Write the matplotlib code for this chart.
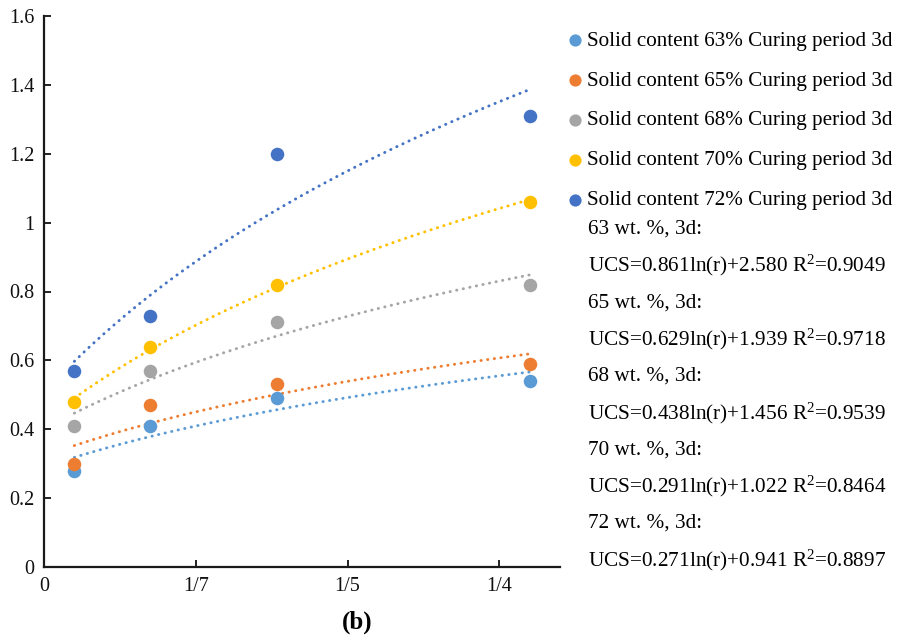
"""UCS vs r for different solid contents, curing period 3d (panel b)."""
import numpy as np
import matplotlib
matplotlib.use('Agg')
import matplotlib.pyplot as plt

plt.rcParams['font.family'] = ['Liberation Serif', 'DejaVu Serif']

# r values of the four mixes (trend lines are log fits on these)
r_vals = [2.0, 2.5, 10 / 3, 5.0]

ucs_63 = [0.28, 0.41, 0.49, 0.54]
ucs_65 = [0.30, 0.47, 0.53, 0.59]
ucs_68 = [0.41, 0.57, 0.71, 0.82]
ucs_70 = [0.48, 0.64, 0.82, 1.06]
ucs_72 = [0.57, 0.73, 1.20, 1.31]

series_labels = ['Solid content 63% Curing period 3d',
                 'Solid content 65% Curing period 3d',
                 'Solid content 68% Curing period 3d',
                 'Solid content 70% Curing period 3d',
                 'Solid content 72% Curing period 3d']
colors = ['#5B9BD5', '#ED7D31', '#A5A5A5', '#FFC000', '#4472C4']

x_ticks = [1.8, 2.8, 3.8, 4.8]
x_tick_labels = ['0', '1/7', '1/5', '1/4']
y_ticks = [0, 0.2, 0.4, 0.6, 0.8, 1.0, 1.2, 1.4, 1.6]
y_tick_labels = ['0', '0.2', '0.4', '0.6', '0.8', '1', '1.2', '1.4', '1.6']

eq_lines = ['63 wt. %, 3d:',
            'UCS=0.861ln(r)+2.580 R$^{2}$=0.9049',
            '65 wt. %, 3d:',
            'UCS=0.629ln(r)+1.939 R$^{2}$=0.9718',
            '68 wt. %, 3d:',
            'UCS=0.438ln(r)+1.456 R$^{2}$=0.9539',
            '70 wt. %, 3d:',
            'UCS=0.291ln(r)+1.022 R$^{2}$=0.8464',
            '72 wt. %, 3d:',
            'UCS=0.271ln(r)+0.941 R$^{2}$=0.8897']

plt.rcParams['mathtext.fontset'] = 'custom'
plt.rcParams['mathtext.rm'] = 'Liberation Serif'
plt.rcParams['mathtext.default'] = 'rm'

W, H = 918, 638
fig = plt.figure(figsize=(W / 100, H / 100), dpi=100)
ax = fig.add_axes([44 / W, 1 - 567 / H, 516 / W, 551 / H])

x = np.array(r_vals)
xf = np.linspace(x.min(), x.max(), 200)
handles = []
for ys, col, lab in zip([ucs_63, ucs_65, ucs_68, ucs_70, ucs_72], colors, series_labels):
    ys = np.array(ys)
    a, b = np.polyfit(np.log(x), ys, 1)
    ax.plot(xf, a * np.log(xf) + b, color=col, lw=2.1,
            linestyle=(0, (0.1, 2.2)), dash_capstyle='round', zorder=2)
    h = ax.scatter(x, ys, s=95, color=col, zorder=3, label=lab, linewidths=0)
    handles.append(h)

ax.set_xlim(1.8, 5.2)
ax.set_ylim(0, 1.6)
ax.set_xticks(x_ticks)
ax.set_xticklabels(x_tick_labels)
ax.set_yticks(y_ticks)
ax.set_yticklabels(y_tick_labels)
ax.tick_params(direction='in', length=5, width=1.3, labelsize=14.5, pad=7, colors='#111111')
for side in ['top', 'right']:
    ax.spines[side].set_visible(False)
for side in ['left', 'bottom']:
    ax.spines[side].set_linewidth(1.6)
    ax.spines[side].set_color('#1a1a1a')

leg = fig.legend(handles=handles, loc='upper left',
                 bbox_to_anchor=(569 / W, 1 - 31 / H), bbox_transform=fig.transFigure,
                 frameon=False, fontsize=15.2, borderpad=0, borderaxespad=0,
                 handlelength=0.6, handletextpad=0.25, labelspacing=0.95,
                 markerscale=0.9)

for i, line in enumerate(eq_lines):
    fig.text(588 / W, 1 - (229 + 36.8 * i) / H, line, fontsize=15.3,
             va='center', ha='left')

fig.text(357 / W, 1 - 622 / H, '(b)', fontsize=18, fontweight='bold',
         ha='center', va='center')

fig.savefig('out.png', dpi=100, facecolor='white')
